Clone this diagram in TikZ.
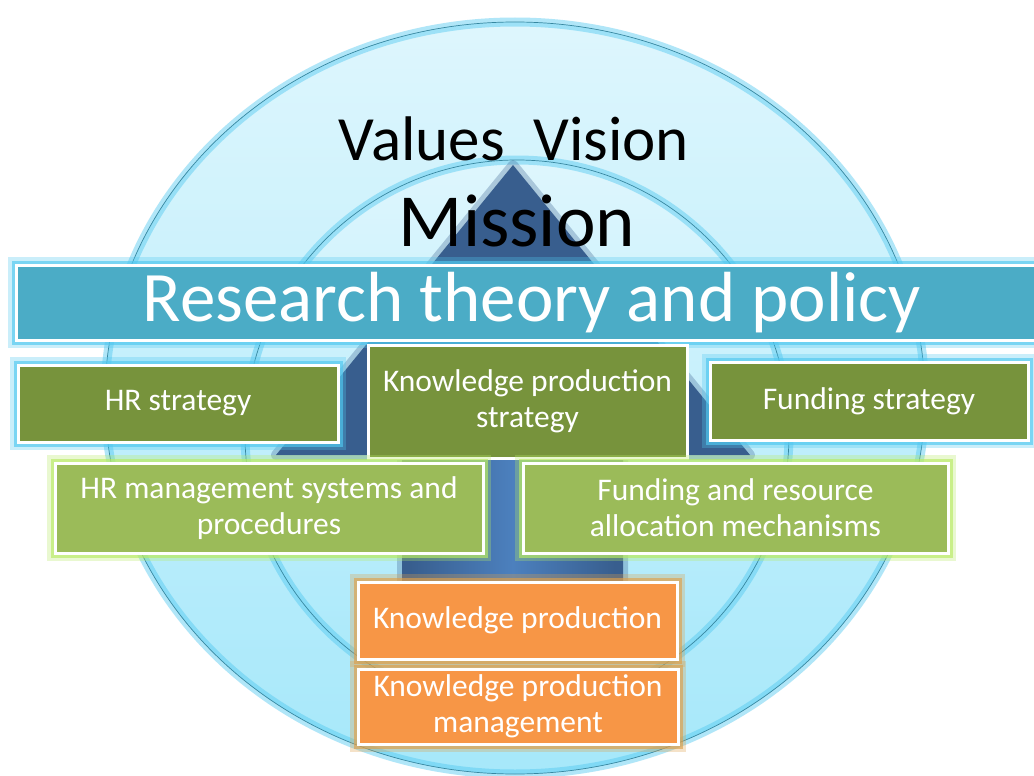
\documentclass[tikz,border=0pt]{standalone}
\usepackage{fontspec}
\setmainfont{Carlito}
\usepackage{tikz}
\definecolor{bandblue}{RGB}{75,172,198}
\definecolor{darkolive}{RGB}{119,147,60}
\definecolor{lightolive}{RGB}{155,187,89}
\definecolor{orangebox}{RGB}{247,150,70}
\definecolor{glowblue}{RGB}{80,200,240}
\definecolor{glowgreen}{RGB}{185,235,100}
\definecolor{gloworange}{RGB}{222,160,75}
\definecolor{arrowblue}{RGB}{56,94,142}
\definecolor{stemblue}{RGB}{76,128,190}
\definecolor{ringline}{RGB}{55,135,160}
\definecolor{paletop}{RGB}{222,246,253}
\definecolor{palebottom}{RGB}{166,232,250}

\begin{document}
\begin{tikzpicture}[x=1pt, y=-1pt,
    box/.style={rectangle, draw=white, line width=3pt, text=white, align=center, inner sep=0pt},
    glow/.style={preaction={draw=#1, line width=16pt, draw opacity=.3},
                 preaction={draw=#1, line width=9pt, draw opacity=.65}},
    boxtext/.style={font=\fontsize{31.5}{36}\selectfont},
    ring/.style={draw=ringline, line width=.7pt},
    ringglow/.style={draw=glowblue, line width=9pt, draw opacity=.45}]
    \path[use as bounding box, fill=white] (0,0) rectangle (1034,776);
    % Circles
    \shade[top color=paletop, bottom color=palebottom] (515,398) ellipse [x radius=410, y radius=376];
    \draw[ringglow] (515,398) ellipse [x radius=410, y radius=376];
    \draw[ring] (515,398) ellipse [x radius=410, y radius=376];
    \shade[top color=paletop, bottom color=palebottom] (517,434) ellipse [x radius=272, y radius=274];
    \draw[ringglow] (517,434) ellipse [x radius=272, y radius=274];
    \draw[ring] (517,434) ellipse [x radius=272, y radius=274];
    % Arrow
    \fill[arrowblue, preaction={draw=arrowblue, line width=10pt, draw opacity=.3, line join=round}]
        (513,165) -- (750,455) -- (623,455) -- (623,590) -- (402,590) -- (402,455) -- (276,455) -- cycle;
    \shade[left color=arrowblue, right color=arrowblue, middle color=stemblue] (410,460) rectangle (615,588);
    % Titles
    \node[font=\fontsize{63}{70}\selectfont, anchor=base, inner sep=0pt] (values) at (514,160) {Values\ \ Vision};
    \node[font=\fontsize{75}{80}\selectfont, anchor=base, inner sep=0pt] (mission) at (517,246) {Mission};
    % Boxes
    \node[box, glow=glowblue, fill=bandblue, minimum width=1032pt, minimum height=75pt,
          font=\fontsize{71}{80}\selectfont] (theory) at (532,302.5) {Research theory and policy};
    \node[box, boxtext, glow=glowblue, fill=darkolive, minimum width=320pt, minimum height=77pt]
          (hrstrat) at (178,403.5) {HR strategy};
    \node[box, boxtext, fill=darkolive, minimum width=319pt, minimum height=113pt]
          (kpstrat) at (527.5,401.5) {Knowledge production\\strategy};
    \node[box, boxtext, glow=glowblue, fill=darkolive, minimum width=318pt, minimum height=78pt]
          (fundstrat) at (869,401) {Funding strategy};
    \node[box, boxtext, glow=glowgreen, fill=lightolive, minimum width=428pt, minimum height=90pt]
          (hrmgmt) at (269,508) {HR management systems and\\procedures};
    \node[box, boxtext, glow=glowgreen, fill=lightolive, minimum width=425pt, minimum height=90pt]
          (fundalloc) at (735.5,508) {Funding and resource\\allocation mechanisms};
    \node[box, boxtext, glow=gloworange, fill=orangebox, minimum width=319pt, minimum height=77pt]
          (kprod) at (517.5,620.5) {Knowledge production};
    \node[box, boxtext, glow=gloworange, fill=orangebox, minimum width=320pt, minimum height=75pt]
          (kpmgmt) at (518,706.5) {Knowledge production\\management};
\end{tikzpicture}
\end{document}
